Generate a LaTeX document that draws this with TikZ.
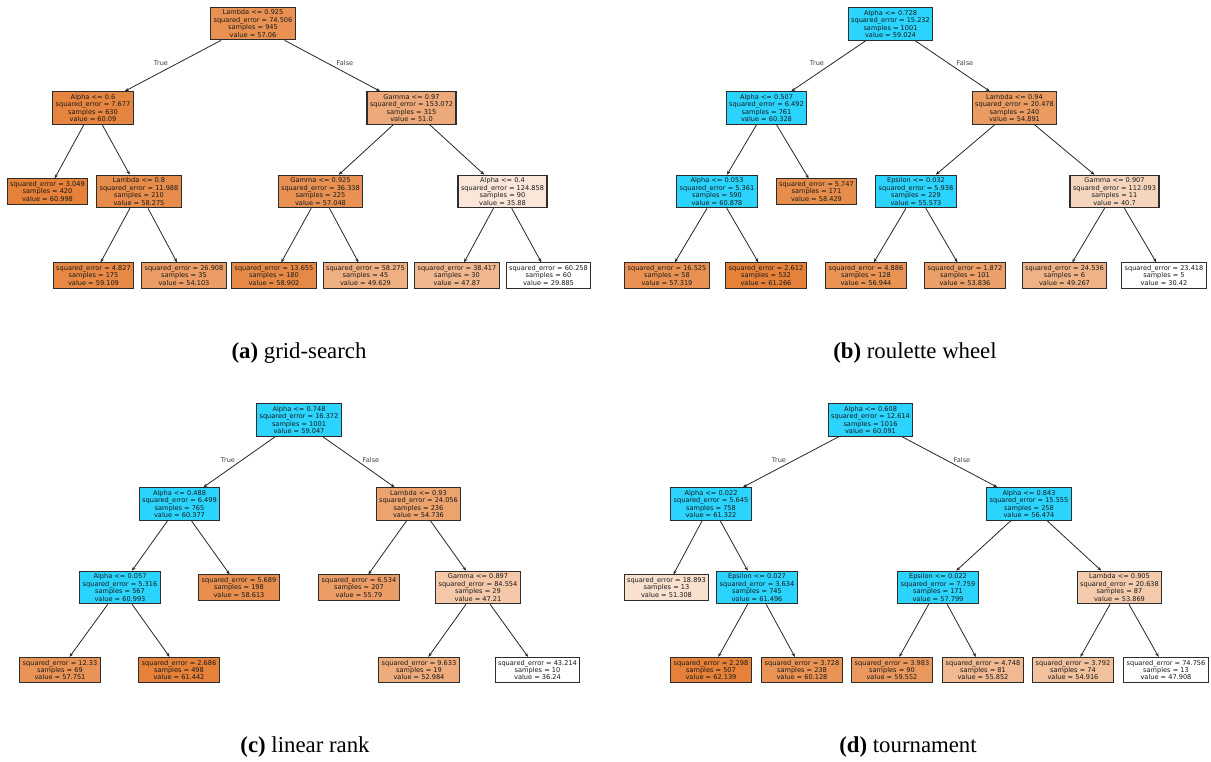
\documentclass[tikz,border=0pt]{standalone}
\usepackage{fontspec}
\usetikzlibrary{arrows.meta}
\newfontfamily\dejavu{DejaVu Sans}
\newfontfamily\libserif{Liberation Serif}
\newcommand\treefont{\dejavu\fontsize{6.6}{7.4}\selectfont}
\newcommand\capfont{\libserif\fontsize{22.8}{24}\selectfont}
\definecolor{tor}{RGB}{229,129,57}
\definecolor{tblue}{RGB}{42,212,255}
\definecolor{boxline}{RGB}{45,45,45}
\tikzset{
  tn/.style={draw=boxline, line width=1.1pt, align=center, font=\treefont, inner xsep=3pt, inner ysep=2.6pt, text=black!90},
  bl/.style={tn, fill=tblue},
  og/.style={tn, fill=tor!#1},
  ed/.style={draw=black!85, line width=0.8pt, -{Stealth[length=4pt,width=3.2pt]}},
  lbl/.style={font=\treefont, text=black!75},
  captxt/.style={font=\capfont}
}
\newcommand\sq{squared\_error}
\begin{document}
\begin{tikzpicture}[x=1pt,y=-1pt]
\useasboundingbox (0,0) rectangle (1211,762);
% ---------- (a) ----------
\node[og=87.3] (a0) at (253,23.5) {Lambda <= 0.925\\\sq{} = 74.506\\samples = 945\\value = 57.06};
\node[og=97.1] (a1) at (93,108) {Alpha <= 0.6\\\sq{} = 7.677\\samples = 630\\value = 60.09};
\node[og=67.9] (a2) at (411.5,108) {Gamma <= 0.97\\\sq{} = 153.072\\samples = 315\\value = 51.0};
\node[og=100] (a3) at (47.5,191.5) {\sq{} = 3.049\\samples = 420\\value = 60.998};
\node[og=91.2] (a4) at (139,191.5) {Lambda <= 0.8\\\sq{} = 11.988\\samples = 210\\value = 58.275};
\node[og=87.3] (a5) at (320.5,191.5) {Gamma <= 0.925\\\sq{} = 36.338\\samples = 225\\value = 57.048};
\node[og=19.3] (a6) at (502.5,191.5) {Alpha <= 0.4\\\sq{} = 124.858\\samples = 90\\value = 35.88};
\node[og=93.9] (a7) at (93.5,275.5) {\sq{} = 4.827\\samples = 175\\value = 59.109};
\node[og=77.8] (a8) at (184,275.5) {\sq{} = 26.908\\samples = 35\\value = 54.103};
\node[og=93.3] (a9) at (274,275.5) {\sq{} = 13.655\\samples = 180\\value = 58.902};
\node[og=63.5] (a10) at (365.5,275.5) {\sq{} = 58.275\\samples = 45\\value = 49.629};
\node[og=57.8] (a11) at (457,275.5) {\sq{} = 38.417\\samples = 30\\value = 47.87};
\node[og=0] (a12) at (548.5,275.5) {\sq{} = 60.258\\samples = 60\\value = 29.885};
\foreach \p/\c in {a0/a1,a0/a2,a1/a3,a1/a4,a4/a7,a4/a8,a2/a5,a2/a6,a5/a9,a5/a10,a6/a11,a6/a12}
  \draw[ed] (\p) -- (\c);
\node[lbl] (aT) at (161,63) {True};
\node[lbl] (aF) at (345,63) {False};
\node[captxt] (acap) at (299,353) {\textbf{(a)} grid-search};
% ---------- (b) ----------
\node[bl] (b0) at (890.5,24) {Alpha <= 0.728\\\sq{} = 15.232\\samples = 1001\\value = 59.024};
\node[bl] (b1) at (766.5,108) {Alpha <= 0.507\\\sq{} = 6.492\\samples = 761\\value = 60.328};
\node[og=79.3] (b2) at (1014.5,108) {Lambda <= 0.94\\\sq{} = 20.478\\samples = 240\\value = 54.891};
\node[bl] (b3) at (717,191.5) {Alpha <= 0.053\\\sq{} = 5.361\\samples = 590\\value = 60.878};
\node[og=90.8] (b4) at (816.5,191.5) {\sq{} = 5.747\\samples = 171\\value = 58.429};
\node[bl] (b5) at (916,191.5) {Epsilon <= 0.032\\\sq{} = 5.938\\samples = 229\\value = 55.573};
\node[og=33.3] (b6) at (1114.5,191.5) {Gamma <= 0.907\\\sq{} = 112.093\\samples = 11\\value = 40.7};
\node[og=87.2] (b7) at (667,275.5) {\sq{} = 16.525\\samples = 58\\value = 57.319};
\node[og=100] (b8) at (766,275.5) {\sq{} = 2.612\\samples = 532\\value = 61.266};
\node[og=86.0] (b9) at (866,275.5) {\sq{} = 4.886\\samples = 128\\value = 56.944};
\node[og=75.9] (b10) at (965,275.5) {\sq{} = 1.872\\samples = 101\\value = 53.836};
\node[og=61.1] (b11) at (1064.5,275.5) {\sq{} = 24.536\\samples = 6\\value = 49.267};
\node[og=0] (b12) at (1164,275.5) {\sq{} = 23.418\\samples = 5\\value = 30.42};
\foreach \p/\c in {b0/b1,b0/b2,b1/b3,b1/b4,b3/b7,b3/b8,b2/b5,b2/b6,b5/b9,b5/b10,b6/b11,b6/b12}
  \draw[ed] (\p) -- (\c);
\node[lbl] (bT) at (817,63) {True};
\node[lbl] (bF) at (965,63) {False};
\node[captxt] (bcap) at (915,353) {\textbf{(b)} roulette wheel};
% ---------- (c) ----------
\node[bl] (c0) at (299,420) {Alpha <= 0.748\\\sq{} = 16.372\\samples = 1001\\value = 59.047};
\node[bl] (c1) at (179.5,504) {Alpha <= 0.488\\\sq{} = 6.499\\samples = 765\\value = 60.377};
\node[og=73.4] (c2) at (418.5,504) {Lambda <= 0.93\\\sq{} = 24.056\\samples = 236\\value = 54.736};
\node[bl] (c3) at (120,587.5) {Alpha <= 0.057\\\sq{} = 5.316\\samples = 567\\value = 60.993};
\node[og=88.8] (c4) at (239,587.5) {\sq{} = 5.689\\samples = 198\\value = 58.613};
\node[og=77.6] (c5) at (359,587.5) {\sq{} = 6.534\\samples = 207\\value = 55.79};
\node[og=43.5] (c6) at (478,587.5) {Gamma <= 0.897\\\sq{} = 84.554\\samples = 29\\value = 47.21};
\node[og=85.4] (c7) at (60,670) {\sq{} = 12.33\\samples = 69\\value = 57.751};
\node[og=100] (c8) at (179,670) {\sq{} = 2.686\\samples = 498\\value = 61.442};
\node[og=66.4] (c9) at (419,670) {\sq{} = 9.633\\samples = 19\\value = 52.984};
\node[og=0] (c10) at (537.5,670) {\sq{} = 43.214\\samples = 10\\value = 36.24};
\foreach \p/\c in {c0/c1,c0/c2,c1/c3,c1/c4,c2/c5,c2/c6,c3/c7,c3/c8,c6/c9,c6/c10}
  \draw[ed] (\p) -- (\c);
\node[lbl] (cT) at (228,460) {True};
\node[lbl] (cF) at (371,460) {False};
\node[captxt] (ccap) at (305,747) {\textbf{(c)} linear rank};
% ---------- (d) ----------
\node[bl] (d0) at (870.5,420) {Alpha <= 0.608\\\sq{} = 12.614\\samples = 1016\\value = 60.091};
\node[bl] (d1) at (711,504) {Alpha <= 0.022\\\sq{} = 5.645\\samples = 758\\value = 61.322};
\node[bl] (d2) at (1029,504) {Alpha <= 0.843\\\sq{} = 15.555\\samples = 258\\value = 56.474};
\node[og=23.9] (d3) at (666.5,587.5) {\sq{} = 18.893\\samples = 13\\value = 51.308};
\node[bl] (d4) at (757,587.5) {Epsilon <= 0.027\\\sq{} = 3.634\\samples = 745\\value = 61.496};
\node[bl] (d5) at (938,587.5) {Epsilon <= 0.022\\\sq{} = 7.759\\samples = 171\\value = 57.799};
\node[og=41.9] (d6) at (1119.5,587.5) {Lambda <= 0.905\\\sq{} = 20.638\\samples = 87\\value = 53.869};
\node[og=100] (d7) at (711,670) {\sq{} = 2.298\\samples = 507\\value = 62.139};
\node[og=85.9] (d8) at (802,670) {\sq{} = 3.728\\samples = 238\\value = 60.128};
\node[og=81.8] (d9) at (892,670) {\sq{} = 3.983\\samples = 90\\value = 59.552};
\node[og=55.8] (d10) at (983,670) {\sq{} = 4.748\\samples = 81\\value = 55.852};
\node[og=49.2] (d11) at (1073,670) {\sq{} = 3.792\\samples = 74\\value = 54.916};
\node[og=0] (d12) at (1166,670) {\sq{} = 74.756\\samples = 13\\value = 47.908};
\foreach \p/\c in {d0/d1,d0/d2,d1/d3,d1/d4,d4/d7,d4/d8,d2/d5,d2/d6,d5/d9,d5/d10,d6/d11,d6/d12}
  \draw[ed] (\p) -- (\c);
\node[lbl] (dT) at (779,460) {True};
\node[lbl] (dF) at (962,460) {False};
\node[captxt] (dcap) at (908,747) {\textbf{(d)} tournament};
\end{tikzpicture}
\end{document}
